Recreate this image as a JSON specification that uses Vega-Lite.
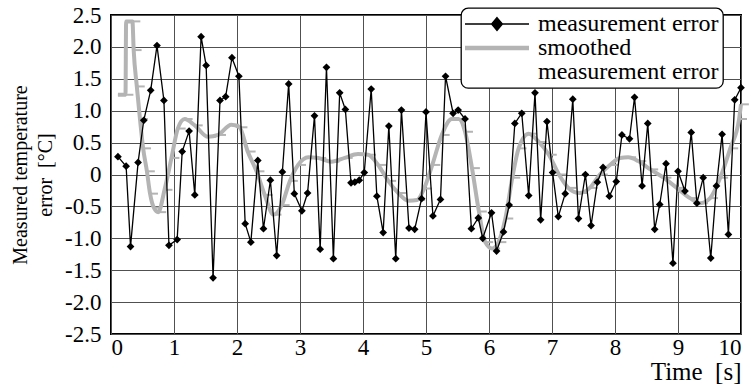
{
  "$schema": "https://vega.github.io/schema/vega-lite/v6.json",
  "width": 630,
  "height": 319,
  "autosize": {"type": "none"},
  "padding": {"left": 111, "top": 15, "right": 10, "bottom": 50},
  "background": "white",
  "config": {
    "font": "Liberation Serif",
    "view": {"stroke": "black", "strokeWidth": 2},
    "text": {"font": "Liberation Serif"},
    "axis": {
      "domain": false,
      "ticks": false,
      "grid": true,
      "gridColor": "#505050",
      "gridWidth": 1,
      "labelColor": "black",
      "titleColor": "black",
      "titleFontWeight": "normal"
    }
  },
  "datasets": {
    "meas": [
      {"t": 0.11, "v": 0.28}, {"t": 0.24, "v": 0.13}, {"t": 0.31, "v": -1.13}, {"t": 0.43, "v": 0.19},
      {"t": 0.52, "v": 0.85}, {"t": 0.63, "v": 1.32}, {"t": 0.73, "v": 2.02}, {"t": 0.84, "v": 1.16},
      {"t": 0.92, "v": -1.11}, {"t": 1.05, "v": -1.02}, {"t": 1.13, "v": 0.36}, {"t": 1.24, "v": 0.68},
      {"t": 1.33, "v": -0.32}, {"t": 1.43, "v": 2.16}, {"t": 1.51, "v": 1.71}, {"t": 1.62, "v": -1.62},
      {"t": 1.73, "v": 1.16}, {"t": 1.82, "v": 1.22}, {"t": 1.92, "v": 1.83}, {"t": 2.03, "v": 1.54},
      {"t": 2.13, "v": -0.77}, {"t": 2.22, "v": -1.06}, {"t": 2.33, "v": 0.22}, {"t": 2.42, "v": -0.85},
      {"t": 2.53, "v": -0.09}, {"t": 2.63, "v": -1.27}, {"t": 2.72, "v": 0.04}, {"t": 2.82, "v": 1.42},
      {"t": 2.91, "v": -0.30}, {"t": 3.03, "v": -0.57}, {"t": 3.12, "v": -0.29}, {"t": 3.23, "v": 0.92},
      {"t": 3.32, "v": -1.17}, {"t": 3.42, "v": 1.68}, {"t": 3.53, "v": -1.32}, {"t": 3.63, "v": 1.28},
      {"t": 3.72, "v": 1.02}, {"t": 3.81, "v": -0.13}, {"t": 3.87, "v": -0.12}, {"t": 3.94, "v": -0.09},
      {"t": 4.02, "v": 0.03}, {"t": 4.13, "v": 1.34}, {"t": 4.22, "v": -0.34}, {"t": 4.32, "v": -0.91},
      {"t": 4.41, "v": 0.76}, {"t": 4.52, "v": -1.32}, {"t": 4.61, "v": 1.01}, {"t": 4.73, "v": -0.84},
      {"t": 4.82, "v": -0.86}, {"t": 4.93, "v": -0.38}, {"t": 5.00, "v": 0.98}, {"t": 5.11, "v": -0.65},
      {"t": 5.23, "v": -0.39}, {"t": 5.31, "v": 1.54}, {"t": 5.43, "v": 0.96}, {"t": 5.51, "v": 1.01},
      {"t": 5.62, "v": 0.87}, {"t": 5.72, "v": -0.85}, {"t": 5.83, "v": -0.68}, {"t": 5.90, "v": -1.00},
      {"t": 6.04, "v": -0.60}, {"t": 6.12, "v": -1.20}, {"t": 6.23, "v": -0.90}, {"t": 6.32, "v": -0.48},
      {"t": 6.41, "v": 0.80}, {"t": 6.52, "v": 0.96}, {"t": 6.63, "v": -0.33}, {"t": 6.73, "v": 1.28},
      {"t": 6.82, "v": -0.71}, {"t": 6.92, "v": 0.83}, {"t": 7.01, "v": 0.03}, {"t": 7.10, "v": -0.66},
      {"t": 7.21, "v": -0.30}, {"t": 7.33, "v": 1.18}, {"t": 7.42, "v": -0.69}, {"t": 7.53, "v": 0.00},
      {"t": 7.62, "v": -0.80}, {"t": 7.72, "v": -0.12}, {"t": 7.81, "v": 0.11}, {"t": 7.91, "v": -0.34},
      {"t": 8.02, "v": -0.11}, {"t": 8.11, "v": 0.62}, {"t": 8.23, "v": 0.56}, {"t": 8.31, "v": 1.21},
      {"t": 8.43, "v": -0.18}, {"t": 8.52, "v": 0.80}, {"t": 8.63, "v": -0.86}, {"t": 8.71, "v": -0.47},
      {"t": 8.81, "v": 0.17}, {"t": 8.92, "v": -1.39}, {"t": 9.00, "v": 0.05}, {"t": 9.11, "v": -0.26},
      {"t": 9.21, "v": 0.66}, {"t": 9.30, "v": -0.45}, {"t": 9.40, "v": -0.05}, {"t": 9.52, "v": -1.31},
      {"t": 9.61, "v": -0.18}, {"t": 9.70, "v": 0.63}, {"t": 9.80, "v": -0.94}, {"t": 9.90, "v": 1.17},
      {"t": 10.0, "v": 1.36}
    ],
    "smooth": [
      {"t": 0.11, "v": 1.25}, {"t": 0.23, "v": 1.25}, {"t": 0.24, "v": 2.40}, {"t": 0.34, "v": 2.40},
      {"t": 0.36, "v": 1.95}, {"t": 0.41, "v": 1.38}, {"t": 0.46, "v": 0.87}, {"t": 0.51, "v": 0.41},
      {"t": 0.57, "v": 0.05}, {"t": 0.62, "v": -0.30}, {"t": 0.68, "v": -0.52}, {"t": 0.75, "v": -0.59},
      {"t": 0.85, "v": -0.24}, {"t": 0.96, "v": 0.26}, {"t": 1.06, "v": 0.72}, {"t": 1.17, "v": 0.87},
      {"t": 1.33, "v": 0.77}, {"t": 1.54, "v": 0.59}, {"t": 1.70, "v": 0.62}, {"t": 1.91, "v": 0.78},
      {"t": 2.04, "v": 0.74}, {"t": 2.17, "v": 0.36}, {"t": 2.31, "v": 0.05}, {"t": 2.44, "v": -0.32},
      {"t": 2.58, "v": -0.63}, {"t": 2.71, "v": -0.48}, {"t": 2.84, "v": -0.10}, {"t": 2.97, "v": 0.15},
      {"t": 3.13, "v": 0.27}, {"t": 3.29, "v": 0.26}, {"t": 3.50, "v": 0.20}, {"t": 3.71, "v": 0.26},
      {"t": 3.92, "v": 0.32}, {"t": 4.08, "v": 0.31}, {"t": 4.24, "v": 0.15}, {"t": 4.40, "v": -0.10},
      {"t": 4.56, "v": -0.29}, {"t": 4.72, "v": -0.41}, {"t": 4.86, "v": -0.40}, {"t": 4.97, "v": -0.22},
      {"t": 5.10, "v": 0.15}, {"t": 5.25, "v": 0.62}, {"t": 5.41, "v": 0.87}, {"t": 5.52, "v": 0.87},
      {"t": 5.62, "v": 0.67}, {"t": 5.73, "v": 0.10}, {"t": 5.84, "v": -0.58}, {"t": 5.94, "v": -1.06},
      {"t": 6.05, "v": -1.16}, {"t": 6.15, "v": -1.06}, {"t": 6.26, "v": -0.69}, {"t": 6.37, "v": -0.05},
      {"t": 6.47, "v": 0.41}, {"t": 6.63, "v": 0.64}, {"t": 6.79, "v": 0.51}, {"t": 6.95, "v": 0.31},
      {"t": 7.11, "v": 0.00}, {"t": 7.26, "v": -0.21}, {"t": 7.44, "v": -0.29}, {"t": 7.60, "v": -0.21},
      {"t": 7.76, "v": 0.00}, {"t": 7.92, "v": 0.15}, {"t": 8.08, "v": 0.26}, {"t": 8.21, "v": 0.27},
      {"t": 8.37, "v": 0.21}, {"t": 8.56, "v": 0.08}, {"t": 8.77, "v": -0.05}, {"t": 8.98, "v": -0.21},
      {"t": 9.19, "v": -0.37}, {"t": 9.35, "v": -0.45}, {"t": 9.51, "v": -0.37}, {"t": 9.67, "v": -0.05},
      {"t": 9.83, "v": 0.41}, {"t": 9.97, "v": 0.87}, {"t": 10.0, "v": 1.10}
    ]
  },
  "encoding": {
    "x": {
      "field": "t",
      "type": "quantitative",
      "scale": {"domain": [0, 10], "nice": false, "zero": false},
      "axis": {
        "values": [0, 1, 2, 3, 4, 5, 6, 7, 8, 9, 10],
        "labelFont": "Liberation Serif",
        "labelFontSize": 23,
        "labelPadding": 2,
        "title": "Time\u00a0\u00a0[s]",
        "titleFont": "Liberation Serif",
        "titleAnchor": "end",
        "titleFontSize": 25,
        "titlePadding": 0
      }
    },
    "y": {
      "field": "v",
      "type": "quantitative",
      "scale": {"domain": [-2.5, 2.5], "nice": false},
      "axis": {
        "values": [-2.5, -2, -1.5, -1, -0.5, 0, 0.5, 1, 1.5, 2, 2.5],
        "labelExpr": "datum.value == 0 ? '0' : (datum.value < 0 ? '-' : '') + format(abs(datum.value), '.1f')",
        "labelFont": "Liberation Serif",
        "labelFontSize": 23,
        "labelPadding": 10,
        "title": ["Measured temperature", "error\u00a0\u00a0[°C]"],
        "titleFont": "Liberation Serif",
        "titleFontSize": 20,
        "titleLineHeight": 25,
        "titlePadding": 9
      }
    }
  },
  "layer": [
    {
      "data": {"name": "smooth"},
      "mark": {"type": "line", "strokeWidth": 4, "interpolate": "monotone"},
      "encoding": {
        "color": {
          "datum": "smoothed measurement error",
          "scale": {
            "domain": ["measurement error", "smoothed measurement error"],
            "range": ["black", "#b4b4b4"]
          },
          "legend": {
            "title": null,
            "orient": "none",
            "legendX": 350,
            "legendY": -7,
            "padding": 4,
            "symbolSize": 4096,
            "symbolType": "M-1,0H1",
            "symbolOffset": 20,
            "labelFont": "Liberation Serif",
            "labelFontSize": 24,
            "labelColor": "black",
            "labelLimit": 0,
            "labelOffset": 29,
            "rowPadding": 0,
            "labelExpr": "datum.value === 'smoothed measurement error' ? ['smoothed', 'measurement error'] : datum.label",
            "encode": {
              "legend": {
                "update": {
                  "fill": {"value": "white"},
                  "stroke": {"value": "black"},
                  "strokeWidth": {"value": 1.3},
                  "cornerRadius": {"value": 7}
                }
              },
              "labels": {
                "update": {
                  "font": {"value": "Liberation Serif"},
                  "lineHeight": {"value": 24}
                }
              },
              "symbols": {
                "update": {
                  "shape": {"signal": "datum.value === 'measurement error' ? 'M-1,0H1M0,-0.2L0.17,0L0,0.2L-0.17,0Z' : 'M-1,0H1'"},
                  "strokeWidth": {"signal": "datum.value === 'measurement error' ? 1.3 : 4.5"},
                  "stroke": {"signal": "datum.value === 'measurement error' ? 'black' : '#b4b4b4'"},
                  "fill": {"signal": "datum.value === 'measurement error' ? 'black' : 'transparent'"}
                }
              }
            }
          }
        }
      }
    },
    {
      "data": {"name": "smooth"},
      "mark": {"type": "point", "shape": "M0,0H1", "filled": false, "stroke": "#b4b4b4", "strokeWidth": 2, "size": 250, "opacity": 1}
    },
    {
      "data": {"name": "meas"},
      "mark": {"type": "line", "strokeWidth": 1.3},
      "encoding": {"color": {"datum": "measurement error"}}
    },
    {
      "data": {"name": "meas"},
      "mark": {"type": "point", "shape": "diamond", "filled": true, "color": "black", "size": 60, "opacity": 1}
    }
  ]
}
